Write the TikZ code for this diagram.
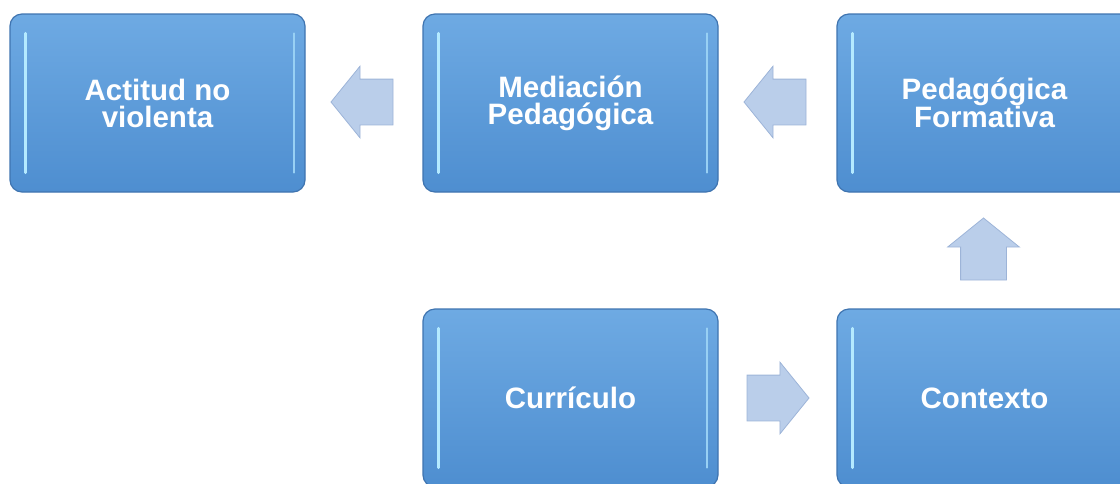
\documentclass[tikz,border=0pt]{standalone}
\usepackage{fontspec}
\setmainfont{Liberation Sans}
\usepackage{tikz}
\usetikzlibrary{positioning,calc,shapes.arrows}

\definecolor{boxtop}{HTML}{6EAAE3}
\definecolor{boxbot}{HTML}{4E8ED0}
\definecolor{boxline}{HTML}{3F74B0}
\definecolor{glow}{HTML}{B4EAFF}
\definecolor{arrfill}{HTML}{BACEEA}
\definecolor{arrline}{HTML}{9DB4D8}

\tikzset{
  stepbox/.style={rectangle,rounded corners=12pt,draw=boxline,line width=1.2pt,
    top color=boxtop,bottom color=boxbot,minimum width=295pt,minimum height=178pt,
    text=white,align=center,font=\fontsize{29.5}{27}\selectfont\bfseries},
  blockarrow/.style={single arrow,draw=arrline,fill=arrfill,line width=0.8pt,
    inner xsep=0pt,inner ysep=22.5pt,minimum height=62pt,anchor=tail,
    single arrow head extend=13pt,single arrow tip angle=102}
}

\begin{document}
\begin{tikzpicture}[x=1pt,y=-1pt]
		\clip (0,0) rectangle (1120,483);

		%top row
		\node[stepbox] (act) at (157.5,103) {Actitud no\\violenta};
		\node[stepbox] (med) at (570.5,103) {Mediación\\Pedagógica};
		\node[stepbox] (ped) at (984.5,103) {Pedagógica\\Formativa};

		%bottom row
		\node[stepbox] (cur) at (570.5,398) {Currículo};
		\node[stepbox] (con) at (984.5,398) {Contexto};

		%left glow
		\foreach \b in {act,med,ped,cur,con}
		{
			\draw[glow,line width=3pt,line cap=round] ($(\b.north west)+(16,20)$) -- ($(\b.south west)+(16,-20)$);
			\draw[glow!60!boxtop,line width=2pt,line cap=round] ($(\b.north east)+(-12,20)$) -- ($(\b.south east)+(-12,-20)$);
		}

		%arrows
		\node[blockarrow,rotate=180] (a1) at ($(med.west)+(-29,-1)$) {};
		\node[blockarrow,rotate=180] (a2) at ($(ped.west)+(-30,-1)$) {};
		\node[blockarrow,rotate=90] (a3) at ($(con.north)+(-1,-28)$) {};
		\node[blockarrow] (a4) at ($(cur.east)+(28,0)$) {};
\end{tikzpicture}
\end{document}
